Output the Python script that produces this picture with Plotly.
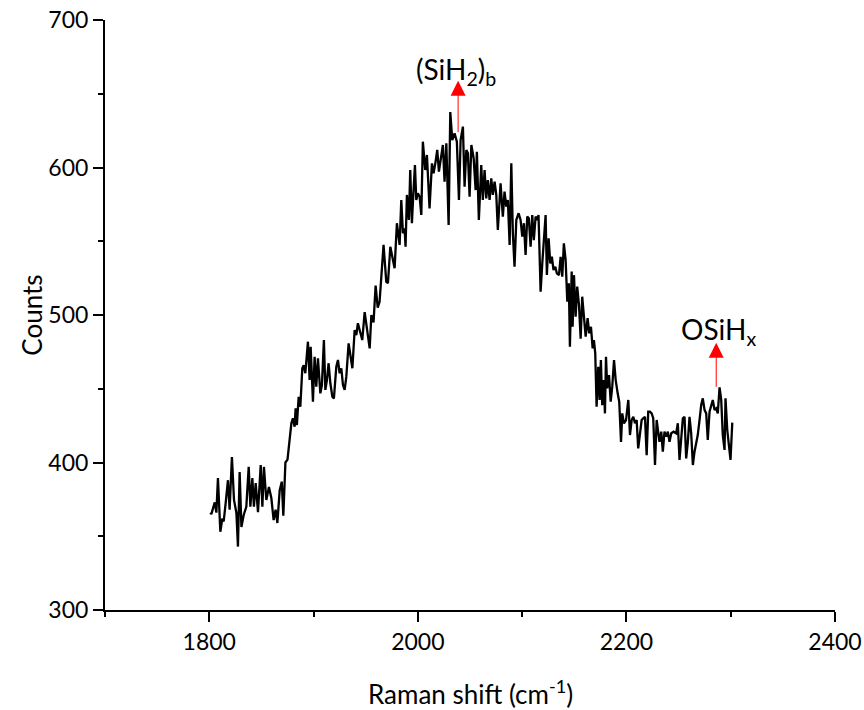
import plotly.graph_objects as go

raman_shift = [
    1801.0, 1802.0, 1805.2, 1806.8, 1808.3, 1810.6, 1812.5, 1813.8, 1815.7, 1817.9,
    1819.5, 1821.7, 1823.7, 1826.0, 1827.5, 1829.1, 1830.8, 1833.0, 1835.5, 1837.8,
    1839.4, 1841.3, 1842.8, 1844.5, 1846.7, 1849.3, 1850.9, 1852.4, 1854.7, 1857.2,
    1859.5, 1861.7, 1863.6, 1865.3, 1867.5, 1869.5, 1871.0, 1873.0, 1875.0, 1877.0,
    1878.7, 1880.2, 1881.8, 1882.8, 1884.0, 1885.7, 1887.3, 1889.2, 1890.5, 1892.1,
    1894.6, 1896.2, 1897.2, 1899.4, 1901.0, 1902.6, 1904.2, 1906.5, 1908.0, 1909.9,
    1911.3, 1912.8, 1914.4, 1916.1, 1918.0, 1919.5, 1921.8, 1923.4, 1925.0, 1926.6,
    1928.2, 1929.8, 1931.4, 1933.6, 1935.2, 1937.2, 1939.4, 1941.0, 1942.5, 1944.8,
    1946.7, 1949.0, 1951.5, 1953.8, 1955.4, 1957.5, 1959.5, 1961.5, 1963.3, 1967.1,
    1969.7, 1971.3, 1973.6, 1975.5, 1977.7, 1979.9, 1981.5, 1982.5, 1984.1, 1985.7,
    1987.3, 1988.2, 1989.5, 1991.4, 1992.7, 1994.3, 1995.2, 1997.2, 1998.5, 2000.0,
    2001.7, 2003.3, 2004.8, 2007.1, 2008.7, 2011.2, 2013.5, 2015.1, 2017.0, 2018.6,
    2020.2, 2021.8, 2024.0, 2025.6, 2027.3, 2029.5, 2031.1, 2033.0, 2035.2, 2037.4,
    2039.4, 2041.0, 2043.2, 2044.8, 2046.5, 2048.0, 2049.6, 2051.3, 2053.5, 2055.4,
    2056.6, 2058.5, 2060.8, 2062.3, 2064.0, 2065.6, 2067.1, 2068.8, 2070.4, 2071.9,
    2073.6, 2075.2, 2076.7, 2079.3, 2081.5, 2083.1, 2084.8, 2086.3, 2088.0, 2089.6,
    2091.1, 2092.7, 2094.4, 2096.6, 2098.5, 2100.1, 2101.7, 2103.3, 2104.9, 2106.4,
    2108.1, 2109.7, 2111.2, 2112.9, 2114.5, 2115.7, 2117.7, 2119.3, 2120.5, 2122.5,
    2123.7, 2125.4, 2127.0, 2128.5, 2130.1, 2131.8, 2133.3, 2135.3, 2136.9, 2138.5,
    2140.0, 2141.7, 2143.3, 2144.8, 2145.8, 2147.5, 2148.4, 2149.7, 2151.3, 2152.8,
    2154.5, 2156.1, 2157.6, 2159.3, 2160.9, 2162.8, 2164.3, 2166.0, 2167.6, 2168.8,
    2170.1, 2171.4, 2173.0, 2174.3, 2175.5, 2176.8, 2178.2, 2179.4, 2180.4, 2181.6,
    2183.3, 2184.9, 2186.4, 2188.1, 2189.7, 2191.6, 2193.1, 2194.8, 2196.0, 2197.6,
    2199.6, 2201.8, 2203.4, 2205.0, 2206.6, 2208.2, 2209.8, 2211.3, 2213.0, 2214.6,
    2216.1, 2217.8, 2219.4, 2220.9, 2222.5, 2224.2, 2225.7, 2227.4, 2229.0, 2230.6,
    2231.7, 2233.4, 2234.9, 2236.5, 2238.2, 2239.7, 2241.3, 2243.0, 2245.2, 2247.7,
    2249.3, 2250.9, 2252.5, 2254.1, 2255.7, 2257.3, 2258.9, 2260.5, 2262.1, 2263.7,
    2265.3, 2266.9, 2268.4, 2270.1, 2271.7, 2273.2, 2274.9, 2276.5, 2278.0, 2279.7,
    2281.3, 2282.8, 2284.5, 2286.1, 2287.6, 2289.3, 2290.9, 2292.4, 2294.1, 2295.0,
    2296.7, 2298.2, 2299.8, 2301.5,
]

counts = [
    366, 365, 373, 366, 389.5, 353, 362, 360, 372.5, 388,
    368, 403.7, 374.6, 365.8, 343, 393.6, 356.3, 364.4, 370, 397,
    370, 389.5, 370, 386, 366.4, 398.3, 370, 397, 374.6, 383.4,
    375.9, 361, 368, 359, 381, 387, 364, 400, 402, 415,
    426.6, 430, 424.3, 436.7, 425.4, 444.6, 437.8, 463.9, 466, 460.5,
    481.9, 455.9, 478.5, 441.2, 471.7, 451.4, 470.6, 446.9, 452.5, 483,
    449.2, 455.9, 467.3, 453.7, 444.6, 443.5, 464.9, 469.5, 460.5, 463.9,
    452.5, 449.2, 458.2, 480.8, 474, 463.9, 489.8, 486.4, 494.4, 487.6,
    483, 502, 490, 477.4, 500, 495, 520, 505, 509, 547.5,
    522.6, 521.5, 546.3, 539.5, 531.7, 562.2, 553.1, 547.5, 578, 555.4,
    558.8, 546.3, 581.4, 564.4, 598.3, 562.2, 575.7, 601.7, 578, 582.5,
    580.2, 567.8, 617.5, 598.3, 608.5, 572.3, 602.8, 596, 604, 611.9,
    597.2, 604, 615.3, 590.4, 616.4, 561, 637.6, 618.6, 623.2, 617.5,
    578, 618.6, 627.7, 587, 611.9, 609.6, 580.2, 615.3, 606.3, 584.7,
    610.7, 564.4, 601.7, 578, 598.3, 579.1, 591.5, 578, 592.7, 581.4,
    590.4, 581.4, 557.6, 589.2, 566.7, 583.6, 573.4, 578, 547.5, 602.8,
    555.4, 532.7, 564.4, 569, 564.4, 553.1, 562.2, 540.7, 566.7, 565.6,
    546.3, 567.8, 550.8, 566.7, 564.4, 567.8, 515.8, 535, 548.6, 567.8,
    527.1, 552, 535, 539.5, 530.5, 532.7, 528.2, 527.1, 539.5, 526,
    548.6, 537.3, 509, 521.5, 478.5, 529.4, 492, 527, 498.8, 519.2,
    506.8, 484, 512.4, 496.6, 485.3, 497.8, 487.6, 492, 477.4, 483,
    474, 437.8, 464.9, 442.4, 469.5, 438.9, 455.9, 433.3, 471.7, 450.3,
    459.3, 441.2, 451.4, 469.5, 455.9, 446.9, 441.2, 414, 433.3, 426.6,
    428.8, 442.4, 418.6, 428.8, 431, 426.6, 428.8, 409.6, 419.8, 428.8,
    430, 431, 405, 434.4, 434.4, 433.3, 430, 398.3, 428.8, 419.8,
    414, 420.9, 407.3, 420.9, 417.5, 420.9, 414, 419.8, 420.9, 419.8,
    426.6, 401.7, 419.8, 430, 431, 402.8, 414, 431, 419.8, 398.3,
    407.3, 414, 418.6, 428.8, 439, 443.5, 435.6, 433.3, 415.3, 434.4,
    437.8, 442.4, 435.6, 436.7, 433.3, 451, 442.4, 418.6, 408.5, 443.5,
    422, 414, 401.7, 427,
]

x_ticks = [1800, 2000, 2200, 2400]
y_ticks = [300, 400, 500, 600, 700]

peak_labels = ["(SiH<sub>2</sub>)<sub>b</sub>", "OSiH<sub>x</sub>"]
peak_positions = [2038.6, 2286.1]
arrow_base = [623, 450.3]
arrow_tip = [658.8, 481.2]
label_x_offset = [-2, 2.5]
label_y = [665.5, 489]

FONT = "Lato, Carlito, Calibri, sans-serif"

fig = go.Figure()
fig.add_trace(go.Scatter(
    x=raman_shift, y=counts, mode="lines",
    line=dict(color="black", width=2.3), showlegend=False,
))

annotations = []
for lbl, px, b, t, dx, ly in zip(peak_labels, peak_positions, arrow_base, arrow_tip,
                                 label_x_offset, label_y):
    annotations.append(dict(
        x=px, y=t, ax=px, ay=b, xref="x", yref="y", axref="x", ayref="y",
        text="", showarrow=True, arrowhead=2, arrowsize=3, arrowwidth=1,
        arrowcolor="red",
    ))
    annotations.append(dict(
        x=px + dx, y=ly, xref="x", yref="y", text=lbl, showarrow=False,
        font=dict(family=FONT, size=28, color="black"),
        xanchor="center", yanchor="middle",
    ))

annotations.append(dict(
    x=0.5008, y=-0.139, xref="paper", yref="paper",
    text="Raman shift (cm<sup>-1</sup>)", showarrow=False,
    font=dict(family=FONT, size=26, color="black"),
    xanchor="center", yanchor="middle",
))
annotations.append(dict(
    x=-0.1004, y=0.5, xref="paper", yref="paper",
    text="Counts", showarrow=False, textangle=-90,
    font=dict(family=FONT, size=26, color="black"),
    xanchor="center", yanchor="middle",
))

fig.update_layout(
    width=864, height=710,
    margin=dict(l=105, r=29, t=20, b=100, autoexpand=False),
    paper_bgcolor="white", plot_bgcolor="white",
    annotations=annotations,
    xaxis=dict(
        range=[1700, 2400], tickvals=x_ticks, ticktext=[str(v) for v in x_ticks],
        automargin=False,
        showgrid=False, zeroline=False, showline=True, linecolor="black", linewidth=2,
        ticks="outside", ticklen=10, tickwidth=2, tickcolor="black",
        tickfont=dict(family=FONT, size=23, color="black"),
        ticklabeloverflow="allow",
        minor=dict(ticks="outside", ticklen=5, tickwidth=1.5, tickcolor="black", dtick=100, showgrid=False),
    ),
    yaxis=dict(
        range=[300, 700], tickvals=y_ticks, ticktext=[str(v) for v in y_ticks],
        automargin=False,
        showgrid=False, zeroline=False, showline=True, linecolor="black", linewidth=2,
        ticks="outside", ticklen=10, tickwidth=2, tickcolor="black",
        tickfont=dict(family=FONT, size=23, color="black"),
        ticklabeloverflow="allow",
        minor=dict(ticks="outside", ticklen=5, tickwidth=1.5, tickcolor="black", dtick=50, showgrid=False),
    ),
)

fig.write_html(
    "out.html",
    config={"displayModeBar": False},
    post_script=(
        "document.documentElement.style.margin='0';"
        "document.body.style.margin='0';document.body.style.padding='0';"
        "document.body.style.overflow='hidden';"
    ),
)
